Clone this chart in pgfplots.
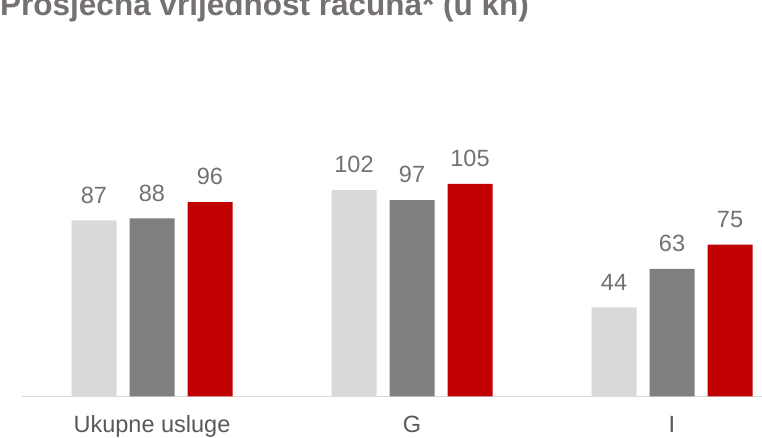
\documentclass[border=0pt]{standalone}
\usepackage{pgfplots}
\pgfplotsset{compat=1.18}
\usepackage{fontspec}
\setmainfont{Liberation Sans}
\definecolor{cA}{HTML}{D9D9D9}
\definecolor{cB}{HTML}{7F7F7F}
\definecolor{cC}{HTML}{C00000}
\definecolor{valc}{HTML}{767171}
\definecolor{catc}{HTML}{595959}
\definecolor{titc}{HTML}{767171}
\begin{document}
\begin{tikzpicture}
\useasboundingbox (0,0) rectangle (762pt,438pt);
\clip (0,0) rectangle (762pt,438pt);
\begin{axis}[
  at={(22pt,41.5pt)}, anchor=south west,
  x=260pt, y=2.024pt,
  xmin=-0.5, xmax=2.5, ymin=0, ymax=180,
  clip=false,
  /pgf/number format/assume math mode=true,
  ybar, bar width=45pt,
  axis x line*=bottom, axis y line=none,
  x axis line style={draw=cA, line width=1.5pt, -},
  xtick={0,1,2}, xticklabels={Ukupne usluge, G, I},
  major tick length=0pt,
  ytick=\empty,
  xticklabel style={anchor=base, inner sep=0pt, yshift=-36pt, font=\fontsize{23.5}{28}\selectfont, text=catc},
  nodes near coords,
  nodes near coords={\pgfmathprintnumber[assume math mode=true]{\pgfplotspointmeta}},
  every node near coord/.append style={anchor=base, inner sep=0pt, yshift=17.3pt, font=\fontsize{23.5}{28}\selectfont, text=valc},
]
\addplot[fill=cA, draw=none, bar shift=-58pt] coordinates {(0,87) (1,102) (2,44)};
\addplot[fill=cB, draw=none, bar shift=0pt] coordinates {(0,88) (1,97) (2,63)};
\addplot[fill=cC, draw=none, bar shift=58pt] coordinates {(0,96) (1,105) (2,75)};
\end{axis}
\node[anchor=base west, inner sep=0pt, font=\bfseries\fontsize{31.5}{36}\selectfont, text=titc] at (0pt,422.5pt) {Prosječna vrijednost računa* (u kn)};
\end{tikzpicture}
\end{document}
